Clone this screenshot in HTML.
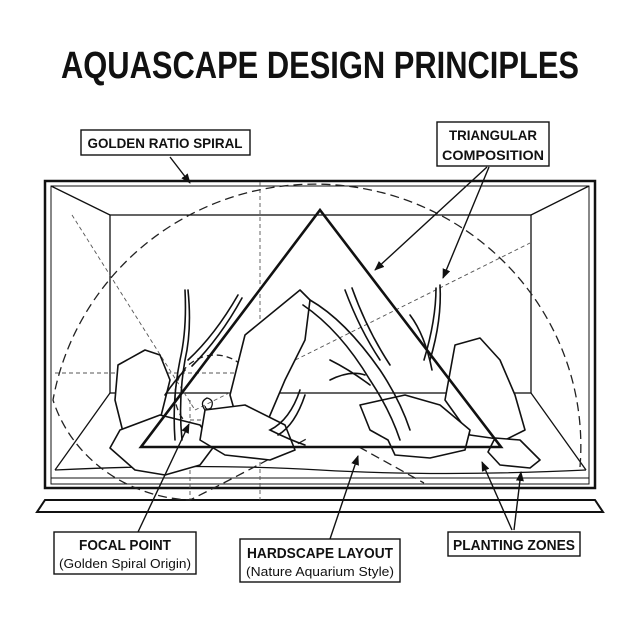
<!DOCTYPE html>
<html><head><style>
html,body{margin:0;padding:0;background:#fff;}
svg{display:block;}
text{font-family:"Liberation Sans",sans-serif;fill:#111;}
</style></head><body>
<svg width="640" height="640" viewBox="0 0 640 640" xmlns="http://www.w3.org/2000/svg">
<defs>
<marker id="ah" markerWidth="10" markerHeight="10" refX="9" refY="5" orient="auto" markerUnits="userSpaceOnUse">
<path d="M0,1 L10,5 L0,9 Z" fill="#111"/></marker>
</defs>
<rect width="640" height="640" fill="#fff"/>
<text x="320" y="78" font-size="38" font-weight="bold" text-anchor="middle" textLength="518" lengthAdjust="spacingAndGlyphs">AQUASCAPE DESIGN PRINCIPLES</text>

<!-- tank -->
<g fill="none" stroke="#111">
<rect x="45" y="181" width="550" height="307" stroke-width="2.5"/>
<rect x="51" y="186" width="538" height="298" stroke-width="1"/>
<rect x="110" y="215" width="421" height="178" stroke-width="1.3"/>
<line x1="51" y1="186" x2="110" y2="215" stroke-width="1.3"/>
<line x1="589" y1="186" x2="531" y2="215" stroke-width="1.3"/>
<line x1="110" y1="393" x2="55" y2="470" stroke-width="1.3"/>
<line x1="531" y1="393" x2="586" y2="470" stroke-width="1.3"/>
<path d="M55,470 Q200,463 320,470 T586,470" stroke-width="1.3"/>
<line x1="51" y1="478" x2="589" y2="478" stroke-width="1"/>
<path d="M45,500 L595,500 L603,512 L37,512 Z" stroke-width="2"/>
</g>

<!-- guide dashed lines -->
<g fill="none" stroke="#555" stroke-width="0.9" stroke-dasharray="4,3">
<line x1="260" y1="182" x2="260" y2="500"/>
<line x1="190" y1="400" x2="190" y2="500"/>
<line x1="55" y1="373" x2="260" y2="373"/>
<line x1="190" y1="420" x2="260" y2="420"/>
<line x1="72" y1="215" x2="195" y2="410"/>
<line x1="195" y1="410" x2="530" y2="243"/>
</g>
<!-- spiral -->
<g fill="none" stroke="#222" stroke-width="1.3" stroke-dasharray="9,5">
<path d="M580,467 A266,262 0 0 0 53,400 A150,140 0 0 0 190,500 Q250,470 310,437"/>
<line x1="359" y1="447" x2="424" y2="483"/>
<circle cx="215" cy="395" r="40" stroke-dasharray="6,4"/>
</g>
<path d="M205,410 q-6,-8 2,-12 q8,2 4,10 q-5,3 -6,-2" fill="none" stroke="#111" stroke-width="1.3"/>

<!-- rocks -->
<g fill="#fff" stroke="#111" stroke-width="1.6" stroke-linejoin="round">
<path d="M145,350 L160,355 L170,380 L160,420 L150,440 L125,440 L115,400 L118,365 Z"/>
<path d="M455,345 L480,338 L500,360 L515,395 L525,430 L505,440 L470,435 L445,400 Z"/>
<path d="M245,335 L300,290 L310,300 L305,340 L285,380 L268,420 L240,430 L230,395 Z"/>
<path d="M120,430 L160,415 L200,425 L215,445 L200,465 L165,475 L135,470 L110,448 Z"/>
<path d="M205,410 L245,405 L285,425 L295,450 L270,460 L225,455 L200,440 Z"/>
<path d="M360,405 L405,395 L440,405 L470,430 L465,450 L430,458 L395,455 L388,440 L370,430 Z"/>
<path d="M495,438 L520,440 L540,460 L530,468 L500,465 L488,452 Z"/>
</g>
<!-- driftwood -->
<g fill="none" stroke="#111" stroke-width="1.6" stroke-linecap="round">
<path d="M303,305 Q340,330 370,380 Q390,410 400,440"/>
<path d="M310,300 Q345,320 380,370 Q400,400 410,430"/>
<path d="M345,290 Q360,330 380,360"/>
<path d="M352,288 Q367,330 390,365"/>
<path d="M440,285 Q442,320 430,360"/>
<path d="M436,288 Q436,320 424,360"/>
<path d="M410,315 Q425,335 432,370"/>
<path d="M330,360 Q350,370 370,385"/>
<path d="M330,380 Q350,370 365,375"/>
<path d="M185,290 Q187,330 180,360 Q172,400 175,440"/>
<path d="M188,290 Q192,330 185,360 Q178,400 182,440"/>
<path d="M238,295 Q215,335 188,360"/>
<path d="M242,298 Q220,338 192,366"/>
<path d="M165,395 Q175,380 185,370"/>
<path d="M300,390 Q290,420 270,430 Q290,440 305,445"/>
<path d="M305,395 Q295,425 278,435"/>
</g>

<!-- triangle -->
<path d="M320,210 L501,447 L141,447 Z" fill="none" stroke="#111" stroke-width="2.6" stroke-linejoin="miter"/>

<!-- arrows -->
<g stroke="#111" stroke-width="1.4" fill="none" marker-end="url(#ah)">
<line x1="170" y1="157" x2="190" y2="183"/>
<line x1="487" y1="167" x2="375" y2="270"/>
<line x1="489" y1="167" x2="443" y2="278"/>
<line x1="138" y1="532" x2="189" y2="424"/>
<line x1="330" y1="539" x2="358" y2="456"/>
<line x1="512" y1="530" x2="482" y2="462"/>
<line x1="514" y1="530" x2="521" y2="472"/>
</g>

<!-- label boxes -->
<g fill="#fff" stroke="#111" stroke-width="1.4">
<rect x="81" y="130" width="169" height="25"/>
<rect x="437" y="122" width="112" height="44"/>
<rect x="54" y="532" width="142" height="42"/>
<rect x="240" y="539" width="160" height="43"/>
<rect x="448" y="532" width="132" height="24"/>
</g>
<text x="165" y="148" font-size="14" font-weight="bold" text-anchor="middle" textLength="155" lengthAdjust="spacingAndGlyphs">GOLDEN RATIO SPIRAL</text>
<text x="493" y="140" font-size="14" font-weight="bold" text-anchor="middle" textLength="88" lengthAdjust="spacingAndGlyphs">TRIANGULAR</text>
<text x="493" y="160" font-size="14" font-weight="bold" text-anchor="middle" textLength="102" lengthAdjust="spacingAndGlyphs">COMPOSITION</text>
<text x="125" y="550" font-size="15" font-weight="bold" text-anchor="middle" textLength="92" lengthAdjust="spacingAndGlyphs">FOCAL POINT</text>
<text x="125" y="568" font-size="13" text-anchor="middle" textLength="132" lengthAdjust="spacingAndGlyphs">(Golden Spiral Origin)</text>
<text x="320" y="558" font-size="15" font-weight="bold" text-anchor="middle" textLength="146" lengthAdjust="spacingAndGlyphs">HARDSCAPE LAYOUT</text>
<text x="320" y="576" font-size="13" text-anchor="middle" textLength="148" lengthAdjust="spacingAndGlyphs">(Nature Aquarium Style)</text>
<text x="514" y="550" font-size="15" font-weight="bold" text-anchor="middle" textLength="122" lengthAdjust="spacingAndGlyphs">PLANTING ZONES</text>
</svg>
</body></html>
